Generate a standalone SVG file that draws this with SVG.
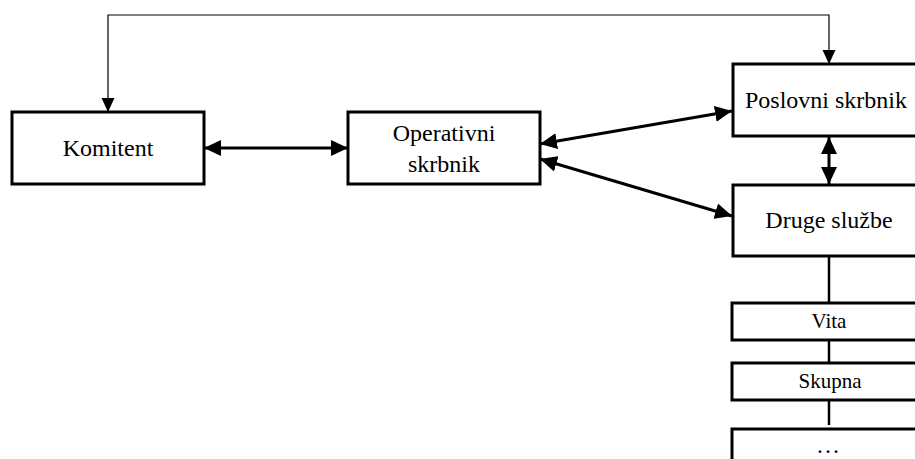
<svg xmlns="http://www.w3.org/2000/svg" width="915" height="459" viewBox="0 0 915 459">
  <style>
    .box { fill: #fff; stroke: #000; stroke-width: 3; }
    .lbl { font-family: "Liberation Serif", "Times New Roman", serif; font-size: 24px; fill: #000; text-anchor: middle; }
    .sm { font-size: 21px; }
    .thick { fill: none; stroke: #000; stroke-width: 3; }
    .thin { fill: none; stroke: #000; stroke-width: 1.2; }
    .link { fill: none; stroke: #000; stroke-width: 2.5; }
  </style>
  <defs>
    <marker id="head" markerUnits="userSpaceOnUse" markerWidth="18" markerHeight="16" refX="17" refY="8" orient="auto-start-reverse">
      <path d="M0,0 L17,8 L0,16 Z" fill="#000"/>
    </marker>
    <marker id="headThin" markerUnits="userSpaceOnUse" markerWidth="15" markerHeight="14" refX="14" refY="6.5" orient="auto-start-reverse">
      <path d="M0,0 L14,6.5 L0,13 Z" fill="#000"/>
    </marker>
  </defs>

  <g id="connectors">
    <path class="thin" d="M108,112 V15 H829 V64" marker-start="url(#headThin)" marker-end="url(#headThin)"/>
    <line class="thick" x1="204" y1="148" x2="348" y2="148" marker-start="url(#head)" marker-end="url(#head)"/>
    <line class="thick" x1="540" y1="144" x2="732" y2="111" marker-start="url(#head)" marker-end="url(#head)"/>
    <line class="thick" x1="540" y1="159" x2="732" y2="216" marker-start="url(#head)" marker-end="url(#head)"/>
    <line class="thick" x1="829" y1="137" x2="829" y2="184" marker-start="url(#head)" marker-end="url(#head)"/>
    <line class="link" x1="829" y1="256" x2="829" y2="303"/>
    <line class="link" x1="829" y1="340" x2="829" y2="363"/>
    <line class="link" x1="829" y1="400" x2="829" y2="425"/>
  </g>

  <g id="komitent">
    <rect class="box" x="12" y="112" width="192" height="72"/>
    <text class="lbl" x="108" y="156">Komitent</text>
  </g>

  <g id="operativni-skrbnik">
    <rect class="box" x="348" y="112" width="192" height="72"/>
    <text class="lbl" x="444" y="141">Operativni</text>
    <text class="lbl" x="444" y="172">skrbnik</text>
  </g>

  <g id="poslovni-skrbnik">
    <rect class="box" x="733" y="64" width="190" height="72"/>
    <text class="lbl" x="826" y="108">Poslovni skrbnik</text>
  </g>

  <g id="druge-sluzbe">
    <rect class="box" x="733" y="185" width="190" height="71"/>
    <text class="lbl" x="829" y="228">Druge službe</text>
  </g>

  <g id="vita">
    <rect class="box" x="732" y="303" width="192" height="37"/>
    <text class="lbl sm" x="829" y="328">Vita</text>
  </g>

  <g id="skupna">
    <rect class="box" x="732" y="363" width="192" height="37"/>
    <text class="lbl sm" x="830" y="388">Skupna</text>
  </g>

  <g id="ostalo">
    <rect class="box" x="732" y="429" width="192" height="40"/>
    <text class="lbl" x="828" y="453">…</text>
  </g>
</svg>
